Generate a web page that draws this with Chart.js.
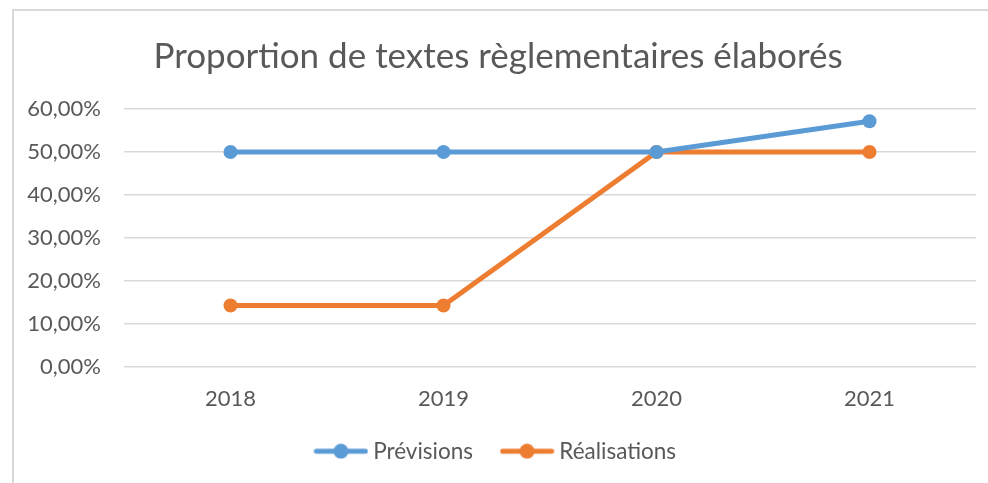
<!DOCTYPE html>
<html>
<head>
<meta charset="utf-8">
<script src="https://cdn.jsdelivr.net/npm/chart.js@4/dist/chart.umd.min.js"></script>
<style>
  html, body { margin: 0; padding: 0; background: #fff; overflow: hidden; }
  #wrap { position: relative; width: 988px; height: 483px; }
  #frame { position: absolute; left: 12px; top: 9px; right: -10px; bottom: -10px;
           border-left: 2px solid #d9d9d9; border-top: 2px solid #d9d9d9; }
  canvas { position: absolute; left: 0; top: 0; }
</style>
</head>
<body>
<div id="wrap">
  <div id="frame"></div>
  <canvas id="chart" width="988" height="483"></canvas>
</div>
<script>
// Data
const annees = ['2018', '2019', '2020', '2021'];
const previsions = [50, 50, 50, 57.14];
const realisations = [14.29, 14.29, 50, 50];
const graduations = [0, 10, 20, 30, 40, 50, 60];

const texte = '#595959';
const bleu = '#5b9bd5';
const orange = '#ed7d31';

// Legend marker: line with a dot in the middle
function marqueur(couleur) {
  const c = document.createElement('canvas');
  c.width = 55;
  c.height = 16;
  const g = c.getContext('2d');
  g.strokeStyle = couleur;
  g.lineWidth = 5;
  g.lineCap = 'round';
  g.beginPath();
  g.moveTo(3, 8);
  g.lineTo(52, 8);
  g.stroke();
  g.fillStyle = couleur;
  g.beginPath();
  g.arc(27.5, 8, 7.5, 0, Math.PI * 2);
  g.fill();
  return c;
}

const ctx = document.getElementById('chart').getContext('2d');
new Chart(ctx, {
  type: 'line',
  data: {
    labels: annees,
    datasets: [{
      label: 'Prévisions',
      data: previsions,
      borderColor: bleu,
      backgroundColor: bleu,
      borderWidth: 5,
      pointRadius: 7,
      pointBorderWidth: 0,
      pointBackgroundColor: bleu,
      tension: 0,
      fill: false
    }, {
      label: 'Réalisations',
      data: realisations,
      borderColor: orange,
      backgroundColor: orange,
      borderWidth: 5,
      pointRadius: 7,
      pointBorderWidth: 0,
      pointBackgroundColor: orange,
      tension: 0,
      fill: false
    }]
  },
  options: {
    responsive: false,
    animation: false,
    devicePixelRatio: 1,
    layout: { padding: { left: 20, right: 12, top: 36, bottom: 10.5 } },
    plugins: {
      title: {
        display: true,
        text: 'Proportion de textes règlementaires élaborés',
        color: texte,
        font: { family: 'Lato', size: 35, weight: 'normal' },
        padding: { top: 0, bottom: 31 }
      },
      legend: {
        position: 'bottom',
        labels: {
          color: texte,
          font: { family: 'Lato', size: 22.5 },
          usePointStyle: true,
          pointStyleWidth: 42,
          padding: 33,
          generateLabels: (chart) => {
            const items = Chart.defaults.plugins.legend.labels.generateLabels(chart);
            return items.map((it, i) => {
              it.pointStyle = marqueur(i === 0 ? bleu : orange);
              return it;
            });
          }
        }
      },
      tooltip: { enabled: false }
    },
    scales: {
      x: {
        offset: true,
        grid: { display: false },
        border: { display: false },
        ticks: { color: texte, font: { family: 'Lato', size: 22 }, padding: 11 },
        afterFit: (s) => { s.height = 40; }
      },
      y: {
        min: graduations[0],
        max: graduations[graduations.length - 1],
        afterBuildTicks: (s) => { s.ticks = graduations.map(v => ({ value: v })); },
        grid: { color: '#d9d9d9', lineWidth: 1.5, drawTicks: false },
        border: { display: false },
        ticks: {
          color: texte,
          font: { family: 'Lato', size: 22 },
          padding: 23,
          callback: (v) => v.toFixed(2).replace('.', ',') + '%'
        },
        afterFit: (s) => { s.width = 104; }
      }
    }
  }
});
</script>
</body>
</html>
